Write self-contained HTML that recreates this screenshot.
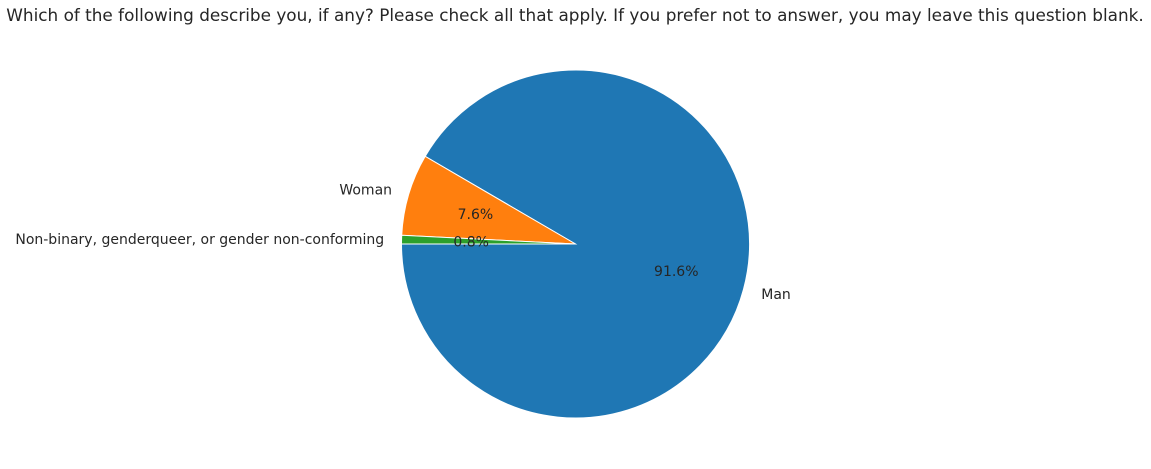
<!DOCTYPE html>
<html><head><meta charset="utf-8"><style>
body{margin:0;background:#fff;}
svg{display:block;font-family:"DejaVu Sans","Liberation Sans",sans-serif;}
</style></head><body>
<svg id="chart" width="1151" height="469" viewBox="0 0 1151 469">
<text x="575" y="21" text-anchor="middle" font-size="16.85" fill="#262626">Which of the following describe you, if any? Please check all that apply. If you prefer not to answer, you may leave this question blank.</text>
<g id="slices"></g>
</svg>
<script>
const categories = ["Man", "Woman", "Non-binary, genderqueer, or gender non-conforming"];
const values = [91.6, 7.6, 0.8];
const colors = ["#1f77b4", "#ff7f0e", "#2ca02c"];
const cx = 575.5, cy = 244, r = 174, start = 180;
const g = document.getElementById('slices');
const NS = "http://www.w3.org/2000/svg";
const total = values.reduce((a,b)=>a+b,0);
let a0 = start;
function pt(a, rr){ const t = a*Math.PI/180; return [cx + rr*Math.cos(t), cy - rr*Math.sin(t)]; }
values.forEach((v,i)=>{
  const span = v/total*360, a1 = a0+span;
  const p0 = pt(a0,r), p1 = pt(a1,r);
  const path = document.createElementNS(NS,'path');
  path.setAttribute('d',`M${cx},${cy} L${p0[0]},${p0[1]} A${r},${r} 0 ${span>180?1:0} 0 ${p1[0]},${p1[1]} Z`);
  path.setAttribute('fill',colors[i]);
  path.setAttribute('stroke','#fff');
  path.setAttribute('stroke-width','1');
  
  
  g.appendChild(path);
  const mid = a0+span/2;
  const lp = pt(mid, r*1.1);
  const cosm = Math.cos(mid*Math.PI/180);
  const lab = document.createElementNS(NS,'text');
  lab.setAttribute('x',lp[0] + (cosm<0?0:1)); lab.setAttribute('y',lp[1]+5);
  lab.setAttribute('text-anchor', cosm<0?'end':'start');
  lab.setAttribute('font-size','14'); lab.setAttribute('fill','#262626');
  
  
  lab.textContent = categories[i];
  g.appendChild(lab);
  const pp = pt(mid, r*0.6);
  const pc = document.createElementNS(NS,'text');
  pc.setAttribute('x',pp[0]); pc.setAttribute('y',pp[1]+5);
  pc.setAttribute('text-anchor','middle');
  pc.setAttribute('font-size','14'); pc.setAttribute('fill','#262626');
  
  
  pc.textContent = v.toFixed(1)+'%';
  g.appendChild(pc);
  a0 = a1;
});
</script>
</body></html>
